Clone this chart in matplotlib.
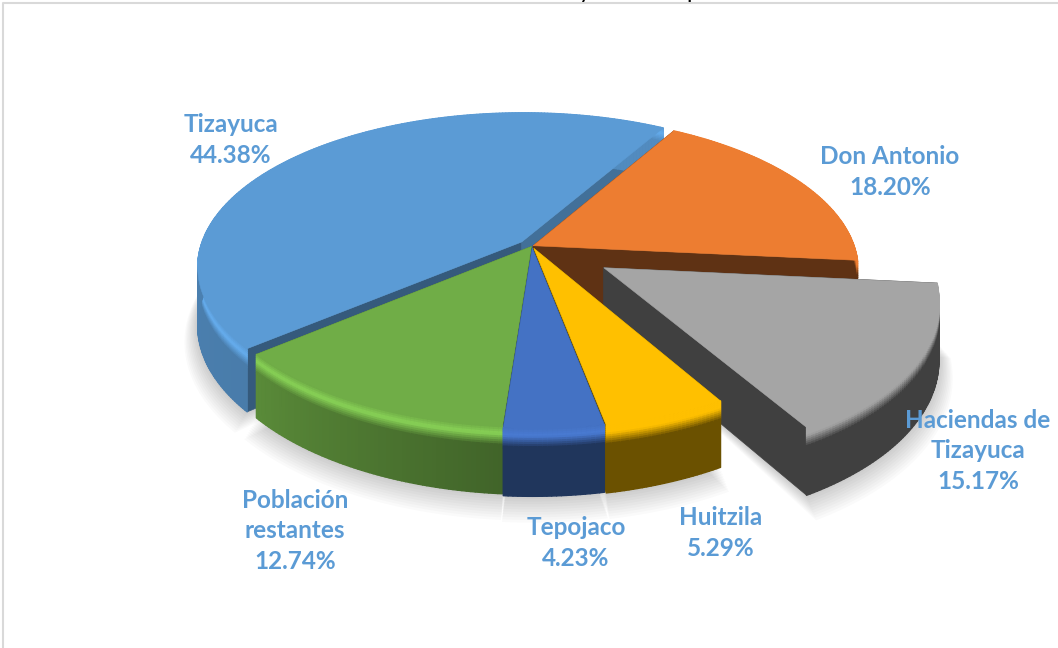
# 3D exploded pie, drawn by hand because matplotlib has no perspective pie
import numpy as np
import matplotlib
matplotlib.use("Agg")
import matplotlib.pyplot as plt
from matplotlib.collections import PolyCollection
from matplotlib.colors import to_rgb

# data
names = ["Tizayuca", "Don Antonio", "Haciendas de\nTizayuca", "Huitzila", "Tepojaco", "Población\nrestantes"]
values = [44.38, 18.20, 15.17, 5.29, 4.23, 12.74]

# styles, same order as names
colors = ["#5B9BD5", "#ED7D31", "#A5A5A5", "#FFC000", "#4472C4", "#70AD47"]
explode = [0.042, 0.004, 0.26, 0.016, 0.012, 0.004]
side_shade = [(0.80, 0.90), (0.40, 0.40), (0.39, 0.39), (0.42, 0.42), (0.47, 0.47), (0.58, 0.80)]
wall_shade = [(0.58, 0.72), (0.40, 0.40), (0.39, 0.39), (0.42, 0.42), (0.47, 0.47), (0.70, 0.70)]
shine = [0.12, 0.0, 0.0, 0.0, 0.08, 0.22]
label_xy = [(231, 140), (890, 172), (978, 451), (721, 533), (576, 543), (295, 531)]
draw_order = [0, 1, 2, 3, 5, 4]

# projection settings (pixels)
cx, cy = 532, 246
rx, ry = 321, 151
persp = 0.16
depth = 57
start_angle = 230.2


def project(u, v, z):
    s = 1 / (1 - persp * v)
    return cx + rx * u * s, cy + ry * v * s + depth * z * s


def disk_point(angle, r, off):
    # angle is clockwise from the top of the pie
    rad = np.radians(angle)
    return r * np.sin(rad) + off[0], -r * np.cos(rad) + off[1]


def shaded(color, f):
    return tuple(min(1, c * f) for c in to_rgb(color))


def bevel_color(base, side, light, t):
    # goes top colour -> highlight -> side colour
    base = np.array(to_rgb(base))
    side = np.array(side)
    hi = np.minimum(base * (1 + light), 1)
    if t < 0.4:
        return tuple(base + (hi - base) * t / 0.4)
    return tuple(hi + (side - hi) * (t - 0.4) / 0.6)


fig = plt.figure(figsize=(10.58, 6.48), dpi=100)
ax = fig.add_axes([0, 0, 1, 1])
ax.set_xlim(0, 1058)
ax.set_ylim(648, 0)
ax.axis("off")

# frame of the pasted chart
ax.plot([3, 3, 1058], [648, 3, 3], color="#D9D9D9", lw=1.5, zorder=1)

# bits of the title that were cut off at the top of the image
ax.text(585, -2, "y", fontsize=17, family="Lato", ha="center", va="baseline", color="black", zorder=1)
ax.text(693, -2, "p", fontsize=17, family="Lato", ha="center", va="baseline", color="black", zorder=1)

total = sum(values)
sweeps = [val * 360 / total for val in values]
starts = [start_angle + sum(sweeps[:i]) for i in range(len(values))]

# soft shadow under everything
for k in range(1, 11):
    polys = []
    for i in range(len(values)):
        mid = starts[i] + sweeps[i] / 2
        off = disk_point(mid, explode[i], (0, 0))
        ang = np.linspace(starts[i], starts[i] + sweeps[i], 60)
        pts = [project(*disk_point(a, 1 + 0.004 * k, off), 1 + 0.025 * k) for a in ang]
        pts.append(project(off[0], off[1], 1))
        polys.append(pts)
    ax.add_collection(PolyCollection(polys, facecolors="black", edgecolors="none", alpha=0.018, zorder=2))

zo = 3
levels = list(np.linspace(0, 0.3, 11)) + [1.0]
for i in draw_order:
    a0, sw = starts[i], sweeps[i]
    col = colors[i]
    mid = a0 + sw / 2
    off = disk_point(mid, explode[i], (0, 0))
    angs = np.linspace(a0, a0 + sw, max(int(sw * 1.5), 12))

    # the two cut faces
    for a, f in zip([a0, a0 + sw], wall_shade[i]):
        u, v = disk_point(a, 1, off)
        quad = [project(off[0], off[1], 0), project(u, v, 0), project(u, v, 1), project(off[0], off[1], 1)]
        ax.fill(*zip(*quad), color=shaded(col, f), lw=0.5, zorder=zo)
        zo += 1

    # outer wall, split up so the colour can change along it and down it
    polys, cols = [], []
    for j in range(len(angs) - 1):
        frac = j / (len(angs) - 2)
        f = side_shade[i][0] + (side_shade[i][1] - side_shade[i][0]) * frac
        side = shaded(col, f)
        p0 = disk_point(angs[j], 1, off)
        p1 = disk_point(angs[j + 1], 1, off)
        for n in range(len(levels) - 1):
            z0, z1 = levels[n], levels[n + 1]
            polys.append([project(*p0, z0), project(*p1, z0), project(*p1, z1), project(*p0, z1)])
            cols.append(bevel_color(col, side, shine[i], min(1, z0 / 0.27)))
    ax.add_collection(PolyCollection(polys, facecolors=cols, edgecolors="face", linewidths=1.0, zorder=zo))
    zo += 1

    # top face
    top = [project(off[0], off[1], 0)] + [project(*disk_point(a, 1, off), 0) for a in angs]
    ax.fill(*zip(*top), color=col, lw=0.4, zorder=zo)
    zo += 1

# labels
for name, val, xy in zip(names, values, label_xy):
    ax.text(xy[0], xy[1], f"{name}\n{val:.2f}%", family="Lato", fontweight="bold", fontsize=17.5,
            color="#5B9BD5", ha="center", va="center", linespacing=1.42, zorder=zo)

fig.savefig("out.png", dpi=100)
